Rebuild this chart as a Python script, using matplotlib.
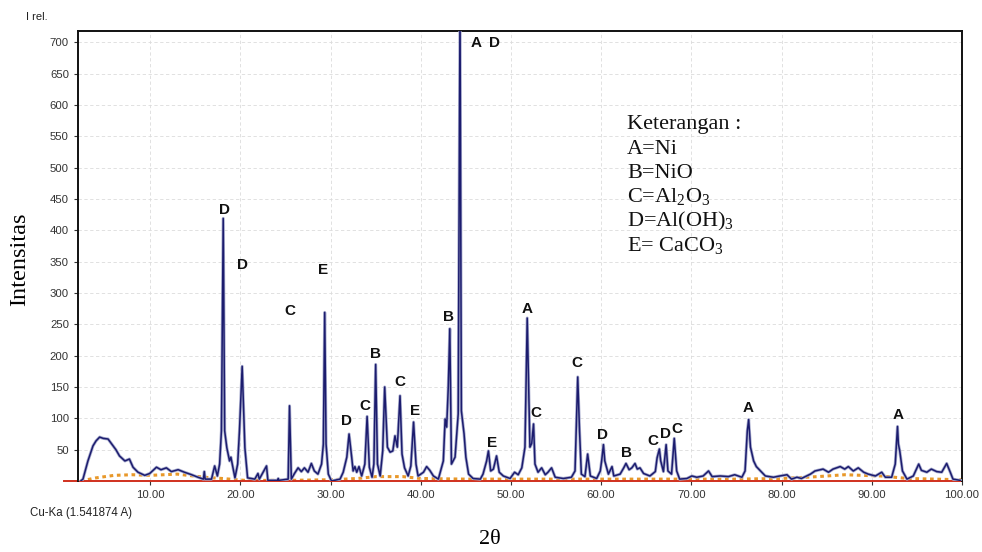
import matplotlib
matplotlib.use("Agg")
import matplotlib.pyplot as plt

plt.rcParams['mathtext.fontset'] = 'custom'
plt.rcParams['mathtext.rm'] = 'Liberation Serif'
plt.rcParams['mathtext.it'] = 'Liberation Serif:italic'

# XRD trace (2 theta, relative intensity)
two_theta = [2.3, 2.55, 3.1, 3.66, 4.0, 4.4, 4.8, 5.33, 5.9, 6.2, 6.6, 7.2, 7.7, 8.1, 8.65, 9.4, 9.95,
             10.7, 11.2, 11.8, 12.35, 13.1, 13.8, 14.6, 15.3, 15.9, 16.0, 16.1, 16.8, 17.15, 17.45,
             17.7, 17.9, 18.1, 18.26, 18.5, 18.8, 18.95, 19.4, 19.7, 19.9, 20.2, 20.5, 20.8, 21.6,
             21.95, 22.1, 22.9, 23.05, 24.15, 24.2, 24.25, 25.3, 25.45, 25.65, 26.0, 26.4, 26.76,
             27.1, 27.5, 27.87, 28.2, 28.6, 29.0, 29.2, 29.35, 29.5, 29.75, 30.1, 31.05, 31.4, 31.8,
             32.05, 32.34, 32.5, 32.7, 32.9, 33.15, 33.45, 33.8, 34.05, 34.3, 34.6, 34.8, 35.0, 35.2,
             35.5, 35.78, 36.0, 36.3, 36.6, 36.9, 37.14, 37.4, 37.7, 37.92, 38.2, 38.6, 38.9, 39.2,
             39.47, 39.7, 40.3, 40.65, 41.0, 41.4, 41.95, 42.5, 42.7, 42.87, 43.05, 43.22, 43.4,
             43.8, 44.15, 44.35, 44.5, 44.8, 45.0, 45.3, 45.8, 46.6, 46.9, 47.3, 47.5, 47.75, 48.05,
             48.4, 48.7, 49.15, 49.9, 50.4, 50.8, 51.2, 51.55, 51.8, 52.1, 52.3, 52.5, 52.66, 53.0,
             53.4, 53.8, 54.1, 54.5, 54.9, 55.8, 56.7, 57.1, 57.4, 57.6, 57.8, 58.2, 58.5, 58.8,
             59.5, 59.9, 60.05, 60.25, 60.4, 60.8, 61.2, 61.4, 62.1, 62.5, 62.75, 63.1, 63.4, 63.75,
             64.0, 64.3, 64.7, 65.4, 66.0, 66.2, 66.45, 66.6, 66.9, 67.2, 67.4, 67.8, 68.1, 68.37,
             68.7, 69.5, 70.05, 70.6, 71.3, 71.9, 72.3, 73.2, 74.1, 74.8, 75.6, 75.95, 76.2, 76.35,
             76.55, 76.9, 77.2, 77.6, 78.2, 79.1, 79.8, 80.6, 81.1, 81.7, 82.2, 83.2, 83.7, 84.6,
             85.2, 85.7, 86.5, 87.0, 87.4, 87.95, 88.5, 89.1, 89.6, 90.4, 91.1, 91.5, 92.2, 92.6,
             92.85, 92.95, 93.1, 93.4, 93.9, 94.6, 95.2, 95.5, 96.1, 96.6, 97.2, 97.75, 98.3, 98.7,
             99.0, 99.8]
intensity = [0, 3, 32, 56, 64, 70, 68, 67, 56, 50, 40, 32, 35, 22, 14, 9, 12,
             22, 18, 21, 15, 18, 14, 10, 6, 3, 15, 3, 3, 24, 8,
             27, 80, 419, 80, 53, 32, 38, 5, 27, 80, 183, 53, 5, 3,
             12, 3, 24, 1, 1, 4, 1, 3, 120, 3, 12, 21, 15,
             21, 14, 28, 16, 11, 27, 59, 269, 59, 11, 0, 3, 14, 38,
             75, 38, 16, 23, 14, 23, 8, 27, 103, 22, 6, 27, 186, 27,
             8, 48, 150, 54, 46, 48, 72, 54, 136, 43, 21, 8, 24, 94,
             27, 8, 14, 23, 17, 8, 3, 32, 99, 86, 150, 243, 27,
             38, 107, 760, 112, 75, 38, 11, 4, 3, 11, 32, 48, 16, 19,
             40, 14, 8, 4, 14, 10, 21, 54, 260, 54, 60, 91, 27, 14,
             21, 10, 14, 21, 6, 4, 6, 16, 166, 80, 11, 7, 43, 8,
             4, 16, 32, 58, 32, 11, 23, 8, 11, 21, 28, 18, 21, 28,
             19, 21, 12, 8, 15, 37, 51, 32, 15, 58, 16, 11, 68, 16,
             3, 4, 8, 6, 8, 16, 7, 8, 7, 10, 6, 16, 80, 98,
             54, 32, 23, 17, 8, 6, 8, 10, 3, 6, 4, 11, 16, 19,
             14, 19, 23, 19, 23, 16, 21, 14, 11, 8, 14, 6, 6, 27,
             87, 59, 48, 16, 3, 8, 27, 17, 14, 19, 15, 14, 28, 14,
             3, 1]

# fitted background (orange dotted)
bg_theta = [2.3, 4, 6, 8, 10, 13, 16, 18, 20.5, 25, 30, 33, 35, 38, 40, 45, 60, 75, 80, 84, 87, 91, 94, 100]
bg_int = [0, 5, 9, 10, 9, 11, 6, 4, 1, 1, 2, 4, 7, 7, 4, 3, 3, 3, 4, 7, 10, 8, 4, 2]

# phase letters above the peaks
peak_letters = ['D', 'D', 'C', 'E', 'D', 'C', 'B', 'C', 'E', 'B', 'A', 'D', 'E', 'A', 'C',
                'C', 'D', 'B', 'C', 'D', 'C', 'A', 'A']
peak_theta = [18.2, 20.2, 25.5, 29.2, 31.8, 33.8, 35.0, 37.7, 39.4, 43.1, 46.1, 48.2, 47.9,
              51.8, 52.8, 57.3, 60.2, 62.8, 65.7, 67.1, 68.4, 76.3, 92.9]
peak_height = [432, 344, 272, 336, 95, 119, 203, 158, 112, 261, 699, 699, 61,
               275, 109, 189, 74, 45, 64, 75, 83, 116, 106]

legend_lines = ['Keterangan :', 'A=Ni', 'B=NiO', r'C=Al$_2$O$_3$', r'D=Al(OH)$_3$', r'E= CaCO$_3$']

y_ticks = list(range(50, 701, 50))
x_ticks = [10, 20, 30, 40, 50, 60, 70, 80, 90, 100]

W, H = 982, 552
fig = plt.figure(figsize=(W / 100, H / 100), dpi=100)
ax = fig.add_axes([78 / W, 1 - 481 / H, (962 - 78) / W, (481 - 31) / H])

ax.plot(bg_theta, bg_int, color='#e8982a', lw=2.2, ls=(0, (1.2, 1.2)), zorder=2)
ax.plot([0.5, 100], [0, 0], color='#d0301e', lw=1.4, zorder=2, clip_on=False)
# light halo under the trace, like the scanned original
ax.plot(two_theta, intensity, color='#a8acce', lw=2.2, zorder=3)
ax.plot(two_theta, intensity, color='#1c1c6e', lw=1.1, zorder=4)

for letter, tt, hh in zip(peak_letters, peak_theta, peak_height):
    ax.text(tt, hh, letter, ha='center', va='center', fontsize=11, fontweight='bold',
            family='Liberation Sans', color='#111111')

ax.set_xlim(2, 100)
ax.set_ylim(0, 718)
ax.set_yticks(y_ticks)
ax.set_xticks(x_ticks)
ax.set_xticklabels(['%.2f' % v for v in x_ticks])
ax.tick_params(labelsize=8.2, colors='#333333', length=3, width=0.8)
for lab in ax.get_xticklabels() + ax.get_yticklabels():
    lab.set_family('Liberation Sans')

ax.grid(True, color='#dcdcdc', lw=0.6, ls=(0, (4, 3)))
ax.set_axisbelow(True)
for side in ['top', 'left', 'right']:
    ax.spines[side].set_linewidth(1.4)
    ax.spines[side].set_color('#111111')
ax.spines['bottom'].set_visible(False)

# texts around the frame
fig.text(37 / W, 1 - 17 / H, 'I rel.', fontsize=8, ha='center', va='center',
         family='Liberation Sans', color='#222222')
fig.text(81 / W, 1 - 513 / H, 'Cu-Ka (1.541874 A)', fontsize=8.3, ha='center', va='center',
         family='Liberation Sans', color='#222222')
fig.text(20 / W, 1 - 259 / H, 'Intensitas', rotation=90, fontsize=17.5, ha='center', va='center',
         family='Liberation Serif')
fig.text(490 / W, 1 - 540 / H, '2θ', fontsize=16, ha='center', va='center', family='Liberation Serif')

for i, line in enumerate(legend_lines):
    fig.text(627 / W, 1 - (125 + 24 * i) / H, line, fontsize=16, ha='left', va='center',
             family='Liberation Serif', color='#111111')

fig.savefig('out.png', dpi=100)
